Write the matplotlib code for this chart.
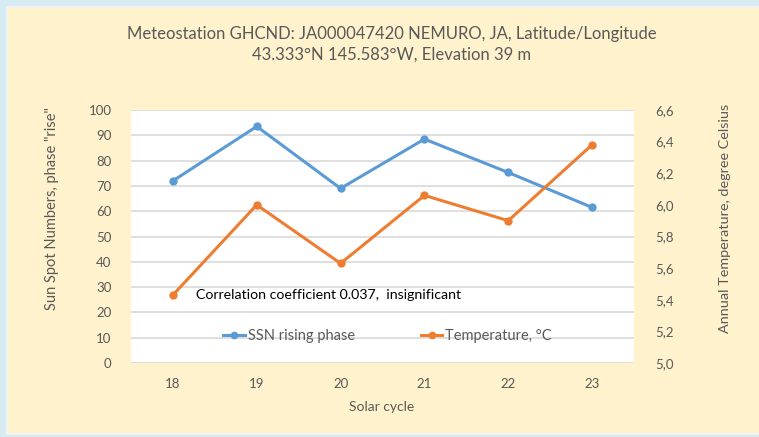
import matplotlib.pyplot as plt
from matplotlib.patches import Rectangle

# data
cycles = ["18", "19", "20", "21", "22", "23"]
ssn_rise = [72, 93.5, 69, 88.5, 75.3, 61.5]
temperature = [5.43, 6.0, 5.63, 6.06, 5.90, 6.38]

left_ticks = list(range(0, 101, 10))
right_ticks = [5.0, 5.2, 5.4, 5.6, 5.8, 6.0, 6.2, 6.4, 6.6]
right_labels = ["5,0", "5,2", "5,4", "5,6", "5,8", "6,0", "6,2", "6,4", "6,6"]

blue = "#5B9BD5"
orange = "#ED7D31"
grey_txt = "#595959"

plt.rcParams['font.family'] = ['Lato', 'DejaVu Sans']

W, H = 759, 437
fig = plt.figure(figsize=(W / 100, H / 100), dpi=100)
fig.patch.set_facecolor("#D7EBF2")

# cream chart panel with a thin white edge
fig.patches.append(Rectangle((7 / W, (H - 434) / H), 760 / W, 427 / H,
                             transform=fig.transFigure, facecolor="#FFF2CC",
                             edgecolor="#F2F2F2", linewidth=1.5, zorder=-5))

ax = fig.add_axes([131 / W, (H - 363) / H, 503 / W, 253 / H])
ax.set_facecolor("white")
x = list(range(len(cycles)))

ax.set_xlim(-0.5, len(cycles) - 0.5)
ax.set_ylim(0, 100)
ax.set_yticks(left_ticks)
ax.set_xticks(x)
ax.set_xticklabels(cycles)
ax.grid(axis="y", color="#D9D9D9", linewidth=1.2)
ax.set_axisbelow(True)
for s in ax.spines.values():
    s.set_visible(False)
ax.tick_params(length=0, labelsize=9.5, colors=grey_txt)
ax.tick_params(axis="y", pad=14)
ax.tick_params(axis="x", pad=11)

ax2 = ax.twinx()
ax2.set_ylim(5.0, 6.6)
ax2.set_yticks(right_ticks)
ax2.set_yticklabels(right_labels)
for s in ax2.spines.values():
    s.set_visible(False)
ax2.tick_params(length=0, labelsize=9.5, colors=grey_txt, pad=15)

l1, = ax.plot(x, ssn_rise, color=blue, lw=2.2, marker="o", ms=5,
              label="SSN rising phase", zorder=3)
l2, = ax2.plot(x, temperature, color=orange, lw=2.2, marker="o", ms=5,
               label="Temperature, °C", zorder=3)

leg = ax.legend(handles=[l1, l2], loc="center", bbox_to_anchor=(0.51, 0.105),
                ncol=2, frameon=False, fontsize=10.5, handlelength=1.5,
                handletextpad=0.2, columnspacing=4.5, markerscale=0.9)
for t in leg.get_texts():
    t.set_color(grey_txt)

ax.text(0.13, 0.27, "Correlation coefficient 0.037,  insignificant",
        transform=ax.transAxes, fontsize=10.2, color="black", va="center")

fig.text(392 / W, 1 - 34 / H,
         "Meteostation GHCND: JA000047420 NEMURO, JA, Latitude/Longitude",
         ha="center", va="center", fontsize=12, color=grey_txt)
fig.text(392 / W, 1 - 55 / H, "43.333°N 145.583°W, Elevation 39 m",
         ha="center", va="center", fontsize=12, color=grey_txt)

fig.text(52 / W, 1 - 209 / H, 'Sun Spot Numbers, phase "rise"', rotation=90,
         ha="center", va="center", fontsize=10.5, color=grey_txt)
fig.text(725 / W, 1 - 218 / H, "Annual Temperature, degree Celsius",
         rotation=90, ha="center", va="center", fontsize=10.4, color=grey_txt)
fig.text(382 / W, 1 - 407 / H, "Solar cycle", ha="center", va="center",
         fontsize=10, color=grey_txt)

fig.savefig("out.png", dpi=100, facecolor=fig.get_facecolor())
